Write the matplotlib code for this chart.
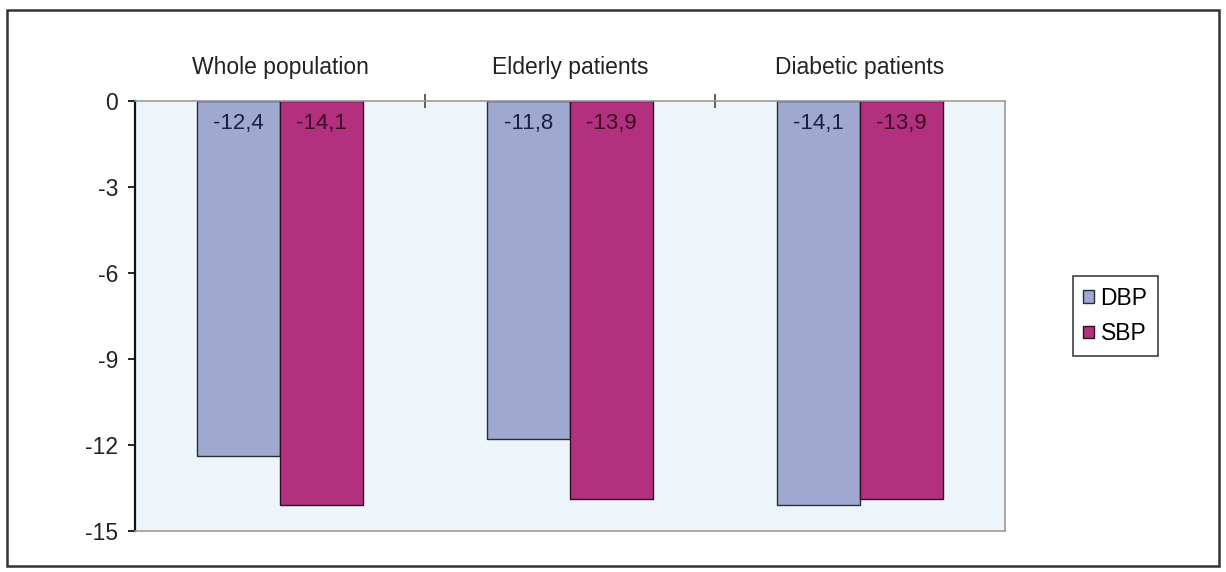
import matplotlib
matplotlib.use("Agg")
import matplotlib.pyplot as plt
import numpy as np
from matplotlib.patches import Rectangle

groups = ["Whole population", "Elderly patients", "Diabetic patients"]
dbp = [-12.4, -11.8, -14.1]
sbp = [-14.1, -13.9, -13.9]
dbp_labels = ["-12,4", "-11,8", "-14,1"]
sbp_labels = ["-14,1", "-13,9", "-13,9"]
yticks = [0, -3, -6, -9, -12, -15]

plt.rcParams["font.family"] = ["Liberation Sans", "DejaVu Sans"]

fig = plt.figure(figsize=(12.26, 5.72), dpi=100)
ax = fig.add_axes([135 / 1226, 1 - 531 / 572, 870 / 1226, 430 / 572])
ax.set_facecolor("#eef5fa")

# outer frame around the whole chart
fig.patches.append(Rectangle((7 / 1226, 6 / 572), 1212 / 1226, 556 / 572,
                             transform=fig.transFigure, fill=False,
                             edgecolor="#333333", linewidth=1.8))

x = np.arange(len(groups))
w = 0.287
b1 = ax.bar(x - w / 2, dbp, w, color="#9fa8cf", edgecolor="#2a2a3a",
            linewidth=1.0, label="DBP")
b2 = ax.bar(x + w / 2, sbp, w, color="#b3307f", edgecolor="#2a1020",
            linewidth=1.0, label="SBP")

for i in range(len(groups)):
    ax.text(x[i] - w / 2, -0.8, dbp_labels[i], ha="center", va="center",
            fontsize=16, color="#1a2040")
    ax.text(x[i] + w / 2, -0.8, sbp_labels[i], ha="center", va="center",
            fontsize=16, color="#3a0a20")

ax.set_xlim(-0.5, 2.5)
ax.set_ylim(-15, 0)

# category names on top, tick marks on the group boundaries
ax.xaxis.tick_top()
ax.set_xticks([0.5, 1.5])
ax.set_xticklabels([])
ax.set_xticks(x, minor=True)
ax.set_xticklabels(groups, minor=True, fontsize=16.5, color="#222222")
ax.tick_params(axis="x", which="major", direction="inout", length=10,
               color="#444444", width=1.2)
ax.tick_params(axis="x", which="minor", length=0, pad=16)

ax.set_yticks(yticks)
ax.set_yticklabels([str(v) for v in yticks], fontsize=16.5, color="#222222")
ax.tick_params(axis="y", direction="out", length=5, width=1.2, pad=7)

ax.spines["left"].set_color("#111111")
ax.spines["left"].set_linewidth(1.6)
for s in ["top", "right", "bottom"]:
    ax.spines[s].set_color("#9a9a9a")
    ax.spines[s].set_linewidth(1.2)

leg = ax.legend(loc="center left", bbox_to_anchor=(1073 / 1226, 1 - 316 / 572),
                bbox_transform=fig.transFigure, fontsize=16.5, frameon=True,
                fancybox=False, edgecolor="#111111", handlelength=0.45,
                handleheight=0.45, handletextpad=0.3, borderpad=0.45,
                labelspacing=0.55, borderaxespad=0)
leg.get_frame().set_linewidth(1.2)

plt.savefig("out.png", dpi=100)
